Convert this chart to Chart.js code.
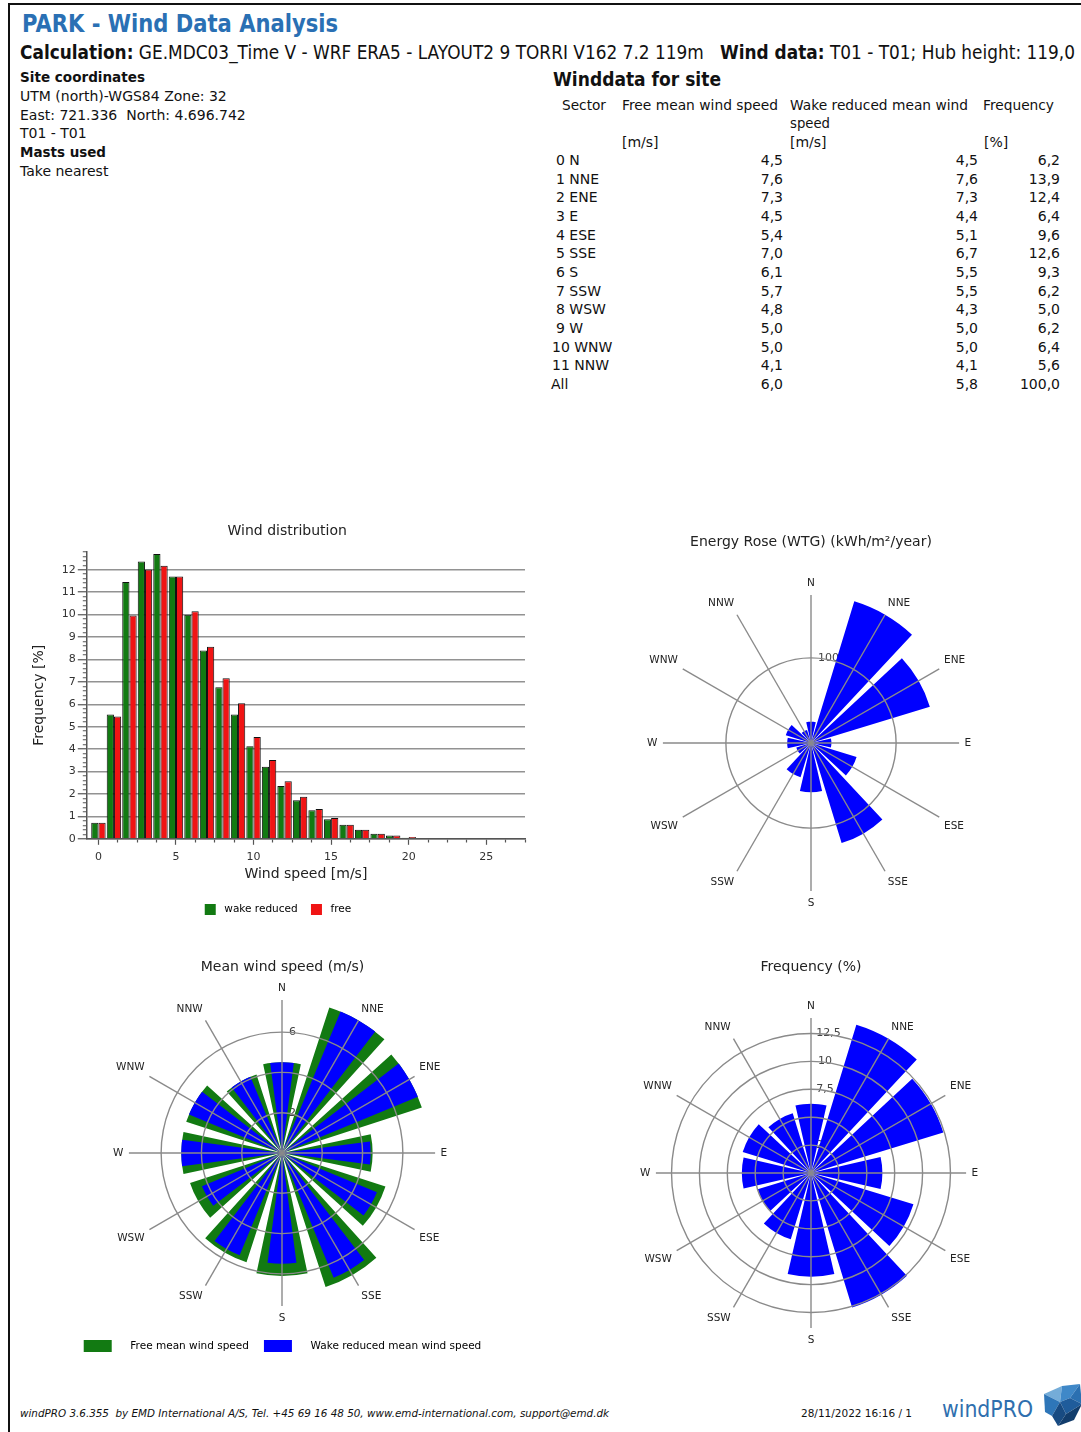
<!DOCTYPE html>
<html lang="en">
<head>
<meta charset="utf-8">
<title>PARK - Wind Data Analysis</title>
<script src="https://cdn.jsdelivr.net/npm/chart.js@4.4.1/dist/chart.umd.min.js"></script>
<style>
  html, body { margin: 0; padding: 0; background: #fff; }
  body { position: relative; width: 1081px; height: 1432px; overflow: hidden;
         font-family: "DejaVu Sans", sans-serif; font-size: 14px; color: #111; }
  .frame { position: absolute; left: 8px; top: 3px; right: -10px; bottom: -10px;
           border-left: 2px solid #111; border-top: 2px solid #111; }
  .t { position: absolute; white-space: nowrap; line-height: 1; transform-origin: 0 50%; }
  .b { font-weight: bold; }
  canvas { position: absolute; }
</style>
</head>
<body>
<div class="frame"></div>

<div class="t b" data-fit="316" style="left:22px;top:12px;font-size:24px;color:#2a70b4">PARK - Wind Data Analysis</div>
<div class="t" data-fit="1055" style="left:20px;top:43px;font-size:19px"><b>Calculation:</b> GE.MDC03_Time V - WRF ERA5 - LAYOUT2 9 TORRI V162 7.2 119m &nbsp; <b>Wind data:</b> T01 - T01; Hub height: 119,0</div>

<div class="t b" data-fit="125" style="left:20px;top:70px">Site coordinates</div>
<div class="t" style="left:20px;top:89px">UTM (north)-WGS84 Zone: 32</div>
<div class="t" style="left:20px;top:108px">East: 721.336&nbsp; North: 4.696.742</div>
<div class="t" style="left:20px;top:126px">T01 - T01</div>
<div class="t b" data-fit="86" style="left:20px;top:145px">Masts used</div>
<div class="t" style="left:20px;top:164px">Take nearest</div>

<div class="t b" data-fit="168" style="left:553px;top:70px;font-size:19px">Winddata for site</div>
<div class="t" data-fit="44" style="left:562px;top:98px">Sector</div>
<div class="t" data-fit="156" style="left:622px;top:98px">Free mean wind speed</div>
<div class="t" data-fit="178" style="left:790px;top:98px">Wake reduced mean wind</div>
<div class="t" data-fit="40" style="left:790px;top:116px">speed</div>
<div class="t" data-fit="71" style="left:983px;top:98px">Frequency</div>
<div class="t" style="left:622px;top:135px">[m/s]</div>
<div class="t" style="left:790px;top:135px">[m/s]</div>
<div class="t" style="left:984px;top:135px">[%]</div>
<div id="table"></div>

<canvas id="distChart" width="530" height="410" style="left:20px;top:515px"></canvas>
<canvas id="energyRose" width="400" height="385" style="left:611px;top:525px"></canvas>
<canvas id="speedRose" width="441" height="412" style="left:62px;top:950px"></canvas>
<canvas id="freqRose" width="400" height="397" style="left:611px;top:950px"></canvas>

<div class="t" data-fit="589" style="left:20px;top:1408px;font-size:11px;font-style:italic">windPRO 3.6.355&nbsp; by EMD International A/S, Tel. +45 69 16 48 50, www.emd-international.com, support@emd.dk</div>
<div class="t" data-fit="111" style="left:801px;top:1408px;font-size:11px">28/11/2022 16:16 / 1</div>
<div class="t" data-fit="91" style="left:942px;top:1398px;font-size:23px;color:#2f6fae">windPRO</div>
<svg style="position:absolute;left:1040px;top:1384px" width="42" height="42" viewBox="0 0 42 42">
  <polygon points="4,10 22,2 20,18" fill="#74acd8"/>
  <polygon points="22,2 40,0 30,14 20,18" fill="#3f88c8"/>
  <polygon points="40,0 42,20 30,14" fill="#2b70b1"/>
  <polygon points="4,10 20,18 12,32 5,28" fill="#2e76b8"/>
  <polygon points="20,18 30,14 42,20 26,30" fill="#1f5c9b"/>
  <polygon points="12,32 20,18 26,30 18,42" fill="#184b82"/>
  <polygon points="26,30 42,20 34,36 18,42" fill="#123d6c"/>
</svg>

<script>
// ---- sector data (12 sectors, clockwise from north) ----
const sectors = ['N', 'NNE', 'ENE', 'E', 'ESE', 'SSE', 'S', 'SSW', 'WSW', 'W', 'WNW', 'NNW'];
const freeMeanSpeed = [4.5, 7.6, 7.3, 4.5, 5.4, 7.0, 6.1, 5.7, 4.8, 5.0, 5.0, 4.1];
const wakeMeanSpeed = [4.5, 7.6, 7.3, 4.4, 5.1, 6.7, 5.5, 5.5, 4.3, 5.0, 5.0, 4.1];
const sectorFrequency = [6.2, 13.9, 12.4, 6.4, 9.6, 12.6, 9.3, 6.2, 5.0, 6.2, 6.4, 5.6];
const allSectors = { free: 6.0, wake: 5.8, frequency: 100.0 };
// energy rose (WTG), kWh/m2/year
const energyPerSector = [25, 174, 146, 24, 56, 123, 58, 42, 18, 28, 31, 16];

// ---- wind speed distribution, 1 m/s classes ----
const speedClasses = [0, 1, 2, 3, 4, 5, 6, 7, 8, 9, 10, 11, 12, 13, 14, 15, 16, 17, 18, 19, 20];
const wakeReducedDist = [0.72, 5.54, 11.45, 12.37, 12.7, 11.7, 9.99, 8.4, 6.76, 5.54, 4.13, 3.21, 2.36, 1.72, 1.27, 0.87, 0.63, 0.4, 0.22, 0.15, 0.05];
const freeDist = [0.72, 5.45, 9.96, 12.01, 12.18, 11.7, 10.15, 8.57, 7.16, 6.04, 4.54, 3.51, 2.57, 1.87, 1.33, 0.93, 0.63, 0.4, 0.22, 0.15, 0.08];

const GREEN = '#127a12';
const RED = '#f01414';
const BLUE = '#0000ff';
const GRID = '#8a8a8a';

// ---- table ----
const fmt = v => v.toFixed(1).replace('.', ',');
const table = document.getElementById('table');
function cell(text, left, right, top) {
  const d = document.createElement('div');
  d.className = 't';
  d.textContent = text;
  d.style.top = top + 'px';
  if (left !== null) d.style.left = left + 'px';
  else d.style.right = right + 'px';
  table.appendChild(d);
}
function row(label, free, wake, freq, i) {
  const top = 160 + i * 18.67 - 7;
  cell(label, i < 10 ? 556 : (label === 'All' ? 551 : 552), null, top);
  cell(fmt(free), null, 1081 - 783, top);
  cell(fmt(wake), null, 1081 - 978, top);
  cell(fmt(freq), null, 1081 - 1060, top);
}
sectors.forEach((s, i) => row(i + ' ' + s, freeMeanSpeed[i], wakeMeanSpeed[i], sectorFrequency[i], i));
row('All', allSectors.free, allSectors.wake, allSectors.frequency, 12);

// ---- text widths ----
document.querySelectorAll('[data-fit]').forEach(el => {
  const target = +el.dataset.fit;
  const w = el.getBoundingClientRect().width;
  if (w > 0) el.style.transform = 'scaleX(' + (target / w) + ')';
});

// ---- charts ----
Chart.defaults.font.family = '"DejaVu Sans", sans-serif';
Chart.defaults.color = '#222';

const near = (a, b) => Math.abs(a - b) < 1e-6;
const isInt = v => near(v, Math.round(v));

new Chart(document.getElementById('distChart'), {
  type: 'bar',
  data: {
    datasets: [
      { label: 'wake reduced', data: speedClasses.map((x, i) => ({ x, y: wakeReducedDist[i] })),
        backgroundColor: GREEN, borderColor: '#111', borderWidth: 1 },
      { label: 'free', data: speedClasses.map((x, i) => ({ x, y: freeDist[i] })),
        backgroundColor: RED, borderColor: '#111', borderWidth: 1 }
    ]
  },
  options: {
    responsive: false, animation: false, devicePixelRatio: 1,
    layout: { padding: { left: 11, right: 25, top: 0, bottom: 0 } },
    datasets: { bar: { categoryPercentage: 0.93, barPercentage: 1 } },
    plugins: {
      title: { display: true, text: '\u2003 Wind distribution', color: '#222',
               font: { size: 14, weight: 'normal' }, padding: { top: 8, bottom: 12 } },
      legend: { position: 'bottom',
        labels: { boxWidth: 11, boxHeight: 11, padding: 10, color: '#333', font: { size: 10.5 },
          generateLabels: chart => chart.data.datasets.map((ds, i) => ({
            text: ' ' + ds.label + (i === 0 ? ' ' : ''), fillStyle: ds.backgroundColor,
            strokeStyle: ds.backgroundColor, lineWidth: 0, hidden: false, datasetIndex: i })) } },
      tooltip: { enabled: false }
    },
    scales: {
      x: {
        type: 'linear', min: -0.75, max: 27.5, offset: false,
        grid: { offset: false, drawOnChartArea: false, tickLength: 6, tickColor: '#555', tickWidth: 1.2,
                tickBorderDash: c => (near(c.tick.value % 5, 0) ? [] : [3, 10]) },
        border: { color: '#555', width: 1.5 },
        ticks: { stepSize: 1.25, includeBounds: false, autoSkip: false, maxRotation: 0, padding: 6,
                 color: '#333', font: { size: 11 },
                 callback: v => (near(v % 5, 0) ? String(v) : '') },
        title: { display: true, text: 'Wind speed [m/s]', color: '#222', font: { size: 14, lineHeight: 1 },
                 padding: { top: -3, bottom: 13 } }
      },
      y: {
        min: 0, max: 12.8,
        grid: { color: c => (isInt(c.tick.value) ? '#929292' : 'transparent'), lineWidth: 1.5,
                tickLength: 9, tickColor: '#555', tickWidth: 1.2,
                tickBorderDash: c => (isInt(c.tick.value) ? [] : [0, 5, 4, 0]) },
        border: { color: '#555', width: 1.5 },
        ticks: { stepSize: 0.2, includeBounds: false, autoSkip: false, padding: 2,
                 color: '#333', font: { size: 11 },
                 callback: v => (isInt(v) ? String(Math.round(v)) : '') },
        title: { display: true, text: 'Frequency [%]', color: '#222', font: { size: 14 },
                 padding: { top: 0, bottom: 12 } }
      }
    }
  }
});

// Polar arcs start at north and run clockwise, so the north sector is split
// into two halves; each sector bar spans `width` degrees, centred on its direction.
function sectorArcs(values, width) {
  const gap = 30 - width;
  const data = [values[0]];
  const angle = [width / 2];
  for (let i = 1; i < values.length; i++) {
    data.push(0, values[i]);
    angle.push(gap, width);
  }
  data.push(0, values[0]);
  angle.push(gap, width / 2);
  return { data, angle };
}

function roseScale(max, step) {
  return {
    min: 0, max, startAngle: 0,
    ticks: { stepSize: step, includeBounds: false, showLabelBackdrop: false, backdropPadding: 0,
             z: 0, color: '#444', font: { size: 11 },
             callback: v => {
               const s = String(v).replace('.', ',');
               return '\u2007'.repeat(s.replace(/\D/g, '').length + 2) + s;
             } },
    grid: { z: 1, color: GRID, lineWidth: 1.4 },
    angleLines: { display: true, color: GRID, lineWidth: 1.4 },
    pointLabels: { display: true, padding: 0, color: '#222', font: { size: 10.5 } }
  };
}

function rose(id, title, titlePad, datasets, scale, legend) {
  return new Chart(document.getElementById(id), {
    type: 'polarArea',
    data: { labels: sectors, datasets },
    options: {
      responsive: false, animation: false, devicePixelRatio: 1,
      layout: { padding: 0 },
      plugins: {
        title: { display: true, text: title, color: '#222', font: { size: 14, weight: 'normal' },
                 padding: titlePad },
        legend: legend || { display: false },
        tooltip: { enabled: false }
      },
      scales: { r: scale }
    }
  });
}

const energyArcs = sectorArcs(energyPerSector, 26);
rose('energyRose', 'Energy Rose (WTG) (kWh/m\u00B2/year)', { top: 9, bottom: 26 },
  [{ label: 'Energy', data: energyArcs.data, angle: energyArcs.angle, backgroundColor: BLUE, borderWidth: 0 }],
  roseScale(Math.max(...energyPerSector), 100));

const wakeArcs = sectorArcs(wakeMeanSpeed, 15);
const freeArcs = sectorArcs(freeMeanSpeed, 24);
const speedLegend = [
  { text: '    Free mean wind speed', color: GREEN },
  { text: '    Wake reduced mean wind speed', color: BLUE }
];
rose('speedRose', 'Mean wind speed (m/s)', { top: 9, bottom: 6 },
  [
    { label: 'Wake reduced mean wind speed', data: wakeArcs.data, angle: wakeArcs.angle, backgroundColor: BLUE, borderWidth: 0 },
    { label: 'Free mean wind speed', data: freeArcs.data, angle: freeArcs.angle, backgroundColor: GREEN, borderWidth: 0 }
  ],
  roseScale(Math.max(...freeMeanSpeed), 2),
  { display: true, position: 'bottom',
    labels: { boxWidth: 28, boxHeight: 12, padding: 15, color: '#333', font: { size: 10.5 },
      generateLabels: () => speedLegend.map(it => ({ text: it.text, fillStyle: it.color, strokeStyle: it.color,
                                                     lineWidth: 0, hidden: false })) } });

const freqArcs = sectorArcs(sectorFrequency, 26);
rose('freqRose', 'Frequency (%)', { top: 9, bottom: 24 },
  [{ label: 'Frequency', data: freqArcs.data, angle: freqArcs.angle, backgroundColor: BLUE, borderWidth: 0 }],
  roseScale(Math.max(...sectorFrequency), 2.5));
</script>
</body>
</html>
